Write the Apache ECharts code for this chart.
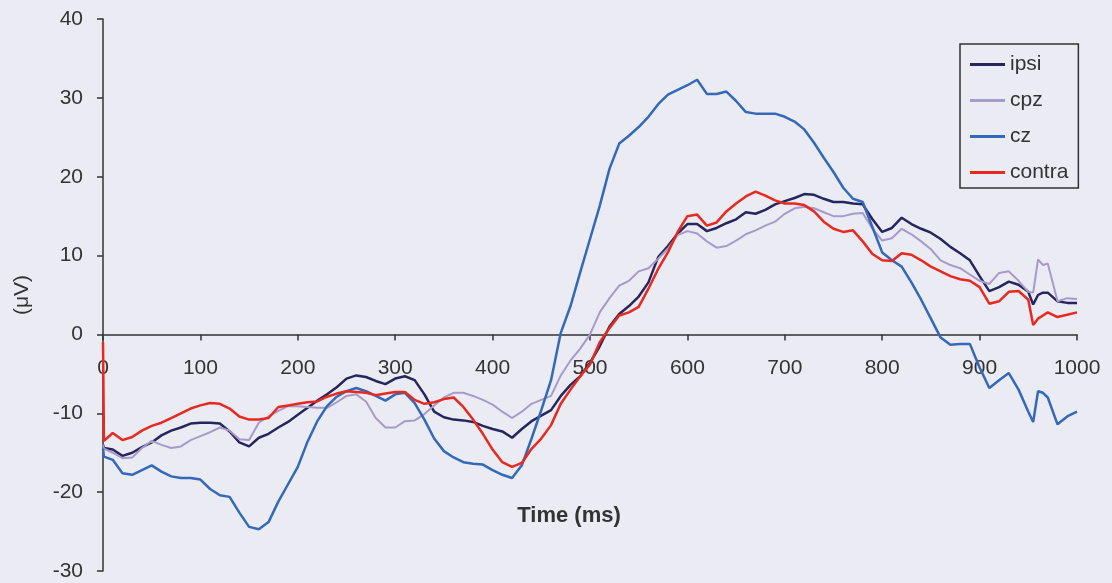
<!DOCTYPE html>
<html>
<head>
<meta charset="utf-8">
<script src="https://cdn.jsdelivr.net/npm/echarts@6/dist/echarts.min.js"></script>
<style>
  html, body { margin: 0; padding: 0; background: #ebebf4; }
  #erp { width: 1112px; height: 583px; }
</style>
</head>
<body>
<div id="erp"></div>
<script>
// time points (ms)
let times = [0, 1, 10, 20, 30, 40, 50, 60, 70, 80, 90, 100, 110, 120, 130, 140, 150, 160, 170, 180, 190,
  200, 210, 220, 230, 240, 250, 260, 270, 280, 290, 300, 310, 320, 330, 340, 350, 360, 370, 380, 390,
  400, 410, 420, 430, 440, 450, 460, 470, 480, 490, 500, 510, 520, 530, 540, 550, 560, 570, 580, 590,
  600, 610, 620, 630, 640, 650, 660, 670, 680, 690, 700, 710, 720, 730, 740, 750, 760, 770, 780, 790,
  800, 810, 820, 830, 840, 850, 860, 870, 880, 890, 900, 910, 920, 930, 940, 950, 955, 960, 965, 970,
  980, 990, 1000];

let ipsi = [-14.0, -14.4, -14.6, -15.4, -15.0, -14.3, -13.7, -12.8, -12.2, -11.8, -11.3, -11.2, -11.2, -11.3, -12.3, -13.7, -14.2, -13.1, -12.6, -11.8, -11.1,
  -10.2, -9.3, -8.4, -7.6, -6.7, -5.6, -5.2, -5.4, -5.9, -6.3, -5.6, -5.3, -5.8, -7.6, -9.8, -10.5, -10.8, -10.9, -11.1, -11.6,
  -12.0, -12.3, -13.1, -12.0, -11.0, -10.3, -9.6, -7.8, -6.4, -5.3, -3.6, -1.5, 1.0, 2.6, 3.6, 4.8, 6.6, 9.8, 11.2, 12.8,
  14.0, 14.0, 13.1, 13.5, 14.1, 14.6, 15.5, 15.3, 15.8, 16.5, 16.9, 17.3, 17.8, 17.7, 17.2, 16.8, 16.8, 16.6, 16.5, 14.6,
  13.0, 13.5, 14.8, 14.0, 13.4, 12.9, 12.1, 11.1, 10.3, 9.4, 7.4, 5.5, 6.0, 6.7, 6.3, 5.4, 3.8, 5.0, 5.3, 5.3,
  4.2, 4.0, 4.0];

let cpz = [-14.0, -14.5, -15.0, -15.7, -15.6, -14.4, -13.5, -14.0, -14.4, -14.2, -13.4, -12.9, -12.4, -11.8, -12.2, -13.3, -13.4, -11.2, -10.4, -9.7, -9.1,
  -9.1, -9.2, -9.3, -9.3, -8.6, -7.8, -7.6, -8.5, -10.6, -11.8, -11.8, -11.0, -10.9, -10.1, -9.0, -8.0, -7.4, -7.4, -7.8, -8.3,
  -8.9, -9.8, -10.6, -9.8, -8.8, -8.3, -7.8, -5.2, -3.3, -1.8, 0.0, 2.8, 4.6, 6.2, 6.8, 8.0, 8.4, 9.6, 10.9, 12.6,
  13.1, 12.8, 11.8, 11.0, 11.2, 11.9, 12.7, 13.2, 13.8, 14.3, 15.3, 16.0, 16.2, 16.0, 15.5, 15.0, 15.0, 15.3, 15.4, 13.4,
  11.9, 12.2, 13.4, 12.7, 11.8, 10.8, 9.4, 8.8, 8.4, 7.6, 6.8, 6.4, 7.8, 8.0, 6.8, 5.4, 5.3, 9.5, 8.8, 9.0,
  4.2, 4.6, 4.5];

let cz = [-14.5, -15.5, -15.9, -17.6, -17.8, -17.2, -16.6, -17.4, -18.0, -18.2, -18.2, -18.4, -19.6, -20.4, -20.6, -22.6, -24.4, -24.7, -23.8, -21.2, -19.0,
  -16.8, -13.6, -11.0, -9.1, -7.9, -7.2, -6.8, -7.2, -7.8, -8.4, -7.6, -7.4, -8.7, -10.8, -13.2, -14.8, -15.6, -16.2, -16.4, -16.5,
  -17.2, -17.8, -18.2, -16.6, -13.2, -9.6, -5.8, 0.2, 3.6, 7.9, 12.1, 16.3, 21.0, 24.2, 25.2, 26.3, 27.6, 29.2, 30.4, 31.0,
  31.6, 32.3, 30.5, 30.5, 30.8, 29.6, 28.2, 28.0, 28.0, 28.0, 27.6, 27.0, 26.0, 24.3, 22.4, 20.6, 18.6, 17.2, 16.8, 13.6,
  10.4, 9.4, 8.6, 6.6, 4.4, 2.0, -0.4, -1.3, -1.2, -1.2, -4.2, -6.8, -5.8, -4.9, -7.0, -9.8, -11.1, -7.2, -7.4, -8.0,
  -11.4, -10.4, -9.8];

let contra = [-1.0, -13.5, -12.5, -13.4, -13.0, -12.2, -11.6, -11.2, -10.6, -10.0, -9.4, -9.0, -8.7, -8.8, -9.4, -10.4, -10.8, -10.8, -10.6, -9.2, -9.0,
  -8.8, -8.6, -8.5, -7.9, -7.5, -7.2, -7.3, -7.4, -7.7, -7.5, -7.3, -7.3, -8.3, -8.8, -8.6, -8.2, -8.0, -9.2, -10.8, -12.6,
  -14.6, -16.2, -16.8, -16.3, -14.5, -13.2, -11.5, -8.8, -7.0, -5.3, -3.8, -1.0, 0.8, 2.4, 2.8, 3.5, 5.8, 8.3, 10.4, 13.0,
  15.0, 15.2, 13.8, 14.2, 15.6, 16.6, 17.5, 18.1, 17.6, 17.0, 16.6, 16.6, 16.4, 15.6, 14.3, 13.4, 13.0, 13.2, 11.8, 10.2,
  9.4, 9.3, 10.3, 10.1, 9.4, 8.6, 8.0, 7.4, 7.0, 6.8, 6.0, 3.9, 4.2, 5.4, 5.5, 4.4, 1.2, 2.0, 2.4, 2.8,
  2.2, 2.5, 2.8];

let names = ['ipsi', 'cpz', 'cz', 'contra'];
let values = [ipsi, cpz, cz, contra];
let colors = ['#27265c', '#a89ac8', '#3468b8', '#e8291f'];
let widths = [2.5, 2, 2.5, 2.5];

let yMin = -30, yMax = 40;
let gridTop = 19, gridBottom = 12, chartH = 583;
// x axis sits on the zero line: shift it up from the grid bottom
let plotH = chartH - gridTop - gridBottom;
let zeroOffset = -plotH * (0 - yMin) / (yMax - yMin);

let myChart = echarts.init(document.getElementById('erp'));

let series = names.map((n, i) => ({
  name: n,
  type: 'line',
  symbol: 'none',
  animation: false,
  lineStyle: { color: colors[i], width: widths[i] },
  itemStyle: { color: colors[i] },
  data: times.map((t, k) => [t, values[i][k]])
}));

let txt = { fontFamily: 'Liberation Sans', color: '#333', fontSize: 21 };

let option = {
  backgroundColor: '#ebebf4',
  animation: false,
  title: {
    text: 'Time (ms)',
    left: 569,
    top: 505,
    textAlign: 'center',
    padding: 0,
    textStyle: { fontFamily: 'Liberation Sans', fontSize: 22, fontWeight: 'bold', color: '#333' }
  },
  legend: {
    orient: 'vertical',
    left: 960,
    top: 44,
    padding: [10, 10, 5, 10],
    itemGap: 15,
    itemWidth: 35,
    itemHeight: 3,
    icon: 'rect',
    borderColor: '#333',
    borderWidth: 1.5,
    textStyle: txt,
    data: names
  },
  grid: {
    left: 103,
    right: 35,
    top: gridTop,
    bottom: gridBottom,
    outerBoundsMode: 'none'
  },
  xAxis: {
    type: 'value',
    min: 0,
    max: 1000,
    interval: 100,
    offset: zeroOffset,
    axisLine: { onZero: false, lineStyle: { color: '#333', width: 1.5 } },
    axisTick: { show: true, length: 6, lineStyle: { color: '#333', width: 1.5 } },
    axisLabel: Object.assign({ margin: 23, formatter: v => String(v) }, txt),
    splitLine: { show: false }
  },
  yAxis: {
    type: 'value',
    min: yMin,
    max: yMax,
    interval: 10,
    name: '(μV)',
    nameLocation: 'middle',
    nameRotate: 90,
    nameGap: 70,
    nameTextStyle: txt,
    axisLine: { show: true, onZero: false, lineStyle: { color: '#333', width: 1.5 } },
    axisTick: { show: true, length: 6, lineStyle: { color: '#333', width: 1.5 } },
    axisLabel: Object.assign({ margin: 20 }, txt),
    splitLine: { show: false }
  },
  series: series
};

myChart.setOption(option);
</script>
</body>
</html>
